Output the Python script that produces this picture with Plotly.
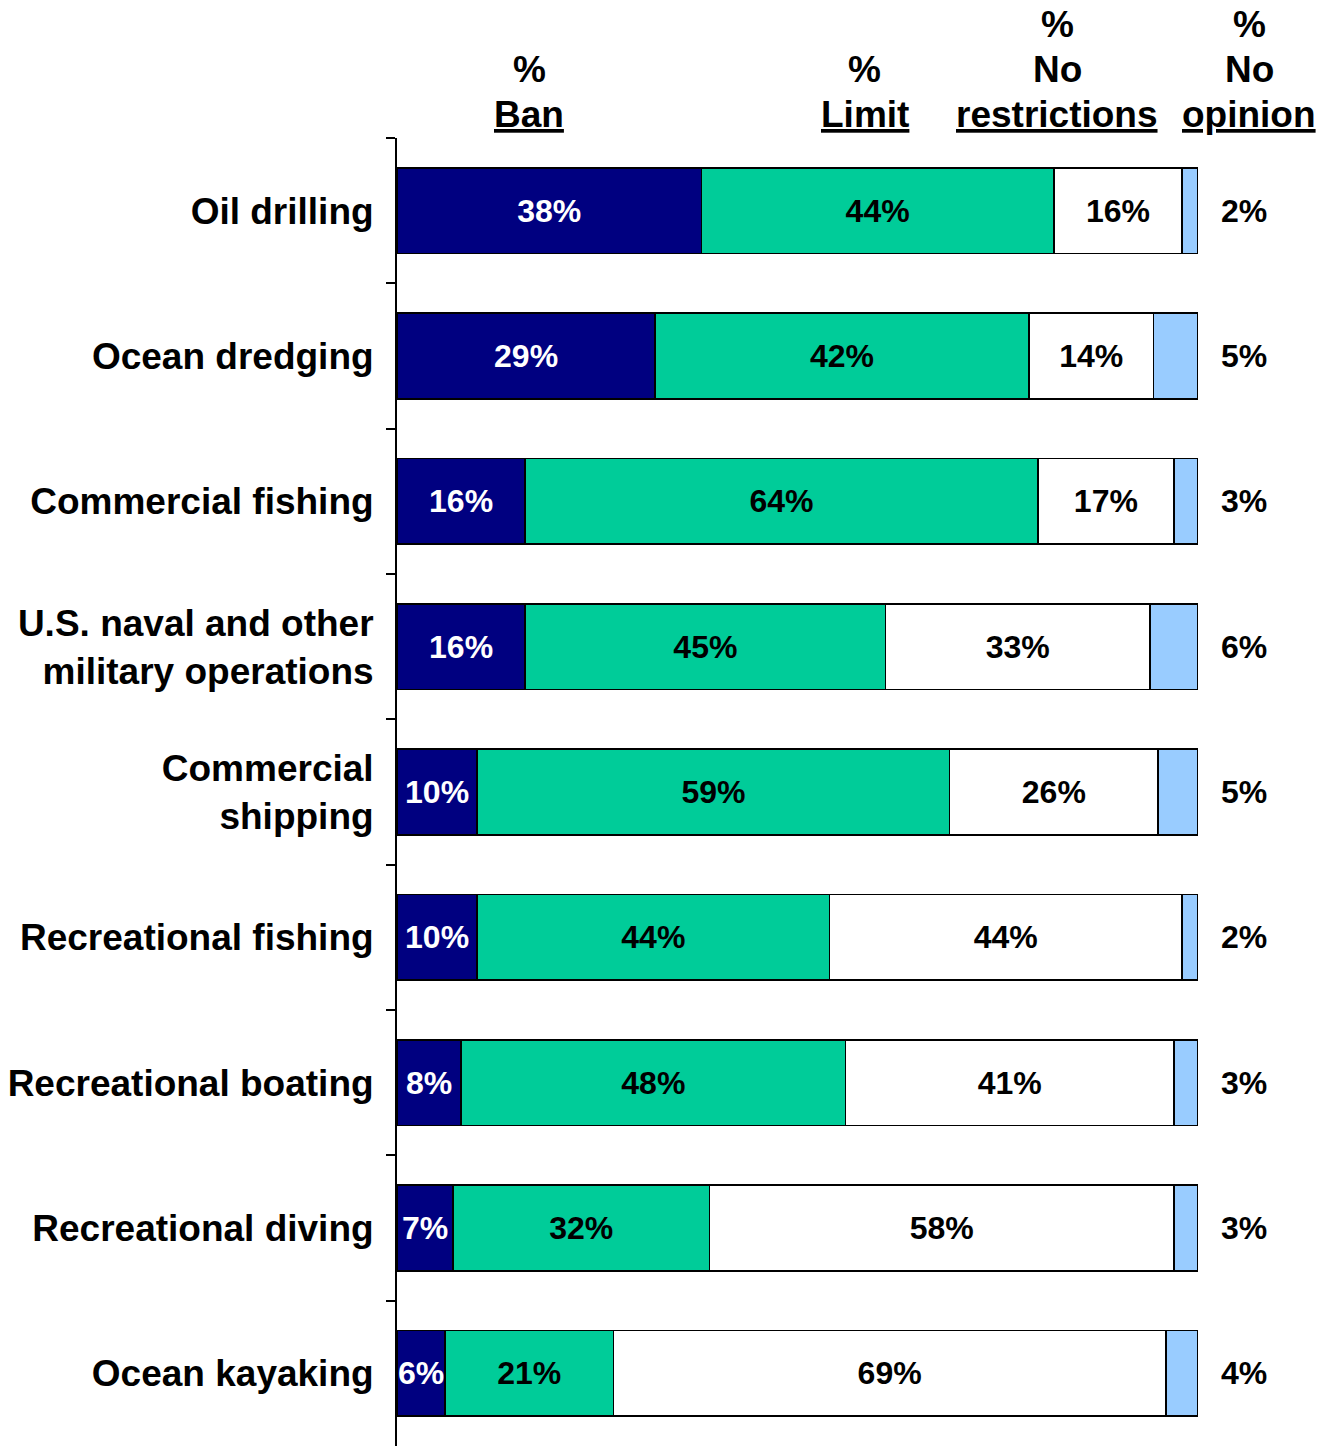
import plotly.graph_objects as go

categories = [
    "Oil drilling",
    "Ocean dredging",
    "Commercial fishing",
    "U.S. naval and other<br>military operations",
    "Commercial<br>shipping",
    "Recreational fishing",
    "Recreational boating",
    "Recreational diving",
    "Ocean kayaking",
]
ban = [38, 29, 16, 16, 10, 10, 8, 7, 6]
limit = [44, 42, 64, 45, 59, 44, 48, 32, 21]
no_restrictions = [16, 14, 17, 33, 26, 44, 41, 58, 69]
no_opinion = [2, 5, 3, 6, 5, 2, 3, 3, 4]

series = [
    ("% Ban", ban, "#000080", "white"),
    ("% Limit", limit, "#00CC99", "black"),
    ("% No restrictions", no_restrictions, "#FFFFFF", "black"),
    ("% No opinion", no_opinion, "#99CCFF", "black"),
]
# header lines, listed bottom-up
headers = [
    ["<u>Ban</u>", "%"],
    ["<u>Limit</u>", "%"],
    ["<u>restrictions</u>", "No", "%"],
    ["<u>opinion</u>", "No", "%"],
]
header_x = [0.165, 0.584, 0.824, 1.064]

FONT = "Liberation Sans, Arial, sans-serif"

fig = go.Figure()
for i, (name, vals, color, tcolor) in enumerate(series):
    show_text = i < 3
    fig.add_trace(go.Bar(
        name=name,
        y=categories,
        x=vals,
        orientation="h",
        marker=dict(color=color, line=dict(color="black", width=1.5)),
        text=[f"{v}%" for v in vals] if show_text else None,
        textposition="inside" if show_text else "none",
        insidetextanchor="middle",
        textangle=0,
        constraintext="none",
        textfont=dict(family=FONT, size=32, color=tcolor, weight="bold"),
        hoverinfo="skip",
    ))

annotations = []
for cat, v in zip(categories, no_opinion):
    annotations.append(dict(
        x=100, y=cat, xref="x", yref="y", text=f"{v}%",
        showarrow=False, xanchor="center", xshift=46,
        font=dict(family=FONT, size=32, color="black", weight="bold"),
    ))
for lines, hx in zip(headers, header_x):
    for k, line in enumerate(lines):
        annotations.append(dict(
            x=hx, y=1, xref="paper", yref="paper", text=line,
            showarrow=False, xanchor="center", yanchor="middle", yshift=24 + 45 * k,
            font=dict(family=FONT, size=37, color="black", weight="bold"),
        ))

fig.update_layout(
    barmode="stack",
    barnorm="percent",
    bargap=0.41,
    width=1330,
    height=1446,
    margin=dict(l=389, r=140, t=130, b=8, autoexpand=False),
    paper_bgcolor="white",
    plot_bgcolor="white",
    showlegend=False,
    annotations=annotations,
    xaxis=dict(range=[0, 100], visible=False, showgrid=False, zeroline=False),
    yaxis=dict(
        autorange="reversed",
        automargin=False,
        showline=True, linecolor="black", linewidth=2,
        ticks="outside", tickson="boundaries", ticklen=9, tickwidth=2, tickcolor="black",
        showgrid=False, zeroline=False,
        tickfont=dict(family=FONT, size=37, color="black", weight="bold"),
        ticklabelstandoff=14,
    ),
)

fig.write_html("out.html")
